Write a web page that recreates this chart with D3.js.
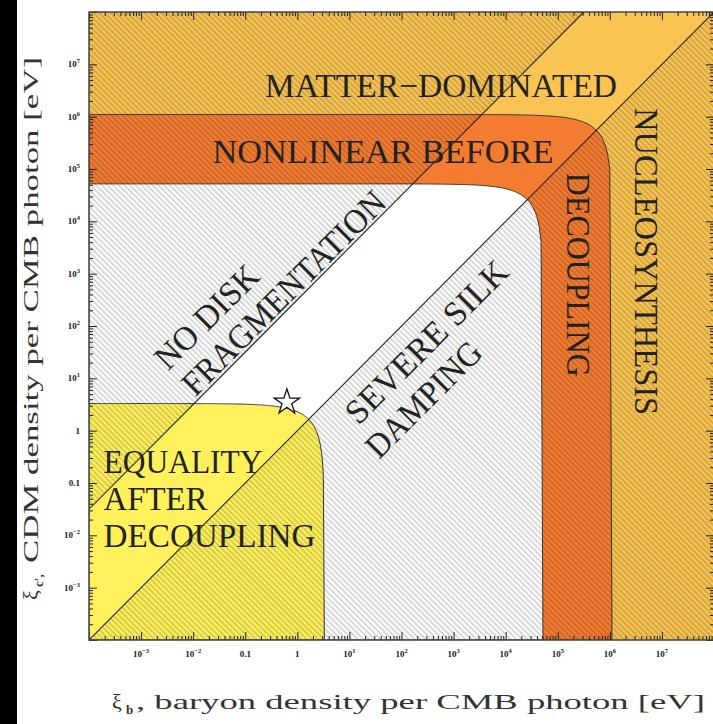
<!DOCTYPE html>
<html>
<head>
<meta charset="utf-8">
<script src="https://cdn.jsdelivr.net/npm/d3@7"></script>
<style>
body { margin: 0; background: #fff; }
svg { display: block; }
</style>
</head>
<body>
<script>

// upper limits of xi_b + xi_c [eV] for the nested regions (inner to outer)
var regionNames = ["equality after decoupling", "galaxy formation", "nonlinear before decoupling"];
var regionSums = [3.3, 5.2e4, 1.1e6];

// ratio xi_c / xi_b along the two diagonal boundaries
var diagNames = ["no disk fragmentation", "severe silk damping"];
var diagRatios = [316, 1];

// our universe
var starXiB = 0.63;
var starXiC = 3.5;

// tick labels, same on both axes
var tickValues = [1e-3, 1e-2, 0.1, 1, 1e1, 1e2, 1e3, 1e4, 1e5, 1e6, 1e7];
var tickLabels = ["10^-3", "10^-2", "0.1", "1", "10^1", "10^2", "10^3", "10^4", "10^5", "10^6", "10^7"];

// region annotations, anchored in data coordinates
var labelTexts = ["MATTER\u2212DOMINATED", "NONLINEAR BEFORE", "DECOUPLING", "NUCLEOSYNTHESIS",
	"EQUALITY", "AFTER", "DECOUPLING", "NO DISK", "FRAGMENTATION", "SEVERE SILK", "DAMPING"];
var labelXiB = [575, 44, 1.5e5, 3.0e6, 1.9e-4, 1.9e-4, 1.9e-4, 0.0033, 0.011, 15, 37];
var labelXiC = [2.4e6, 1.3e5, 950, 1.7e3, 0.155, 0.030, 0.006, 13.5, 4.3, 1.23, 0.275];



// page layout
var width = 713, height = 724;
var plot = { left: 89, top: 12, right: 714, bottom: 640 };
var xMin = 1e-4, xMax = 1e8, yMin = 1e-4, yMax = 1e8;
var serif = "'Liberation Serif', 'DejaVu Serif', serif";
var fills = ["#fef15b", "#ffffff", "#f47c31"];
var matterFill = "#f9c452";

// angle, anchor and drawn length of each annotation (same order as labelTexts)
var labelAngle = [0, 0, 90, 90, 0, 0, 0, -45, -45, -45, -45];
var labelAnchor = ["middle", "middle", "middle", "middle", "start", "start", "start", "start", "start", "start", "start"];
var labelLength = [352, 341, 204, 307, 159, 104, 212, 132, 273, 215, 149];

var svg = d3.select("body").append("svg")
	.attr("width", width)
	.attr("height", height);

var x = d3.scaleLog().domain([xMin, xMax]).range([plot.left, plot.right]);
var y = d3.scaleLog().domain([yMin, yMax]).range([plot.bottom, plot.top]);

var defs = svg.append("defs");

// diagonal hatch
var pat = defs.append("pattern")
	.attr("id", "hatch")
	.attr("patternUnits", "userSpaceOnUse")
	.attr("width", 4)
	.attr("height", 10)
	.attr("patternTransform", "rotate(-45)");
pat.append("line")
	.attr("x1", 1).attr("x2", 1).attr("y1", -1).attr("y2", 11)
	.attr("stroke", "#000")
	.attr("stroke-opacity", 0.22)
	.attr("stroke-width", 1.4);

defs.append("clipPath").attr("id", "plot-clip")
	.append("rect")
	.attr("x", plot.left).attr("y", plot.top)
	.attr("width", plot.right - plot.left).attr("height", plot.bottom - plot.top);

// hatched part: above the steep diagonal and below the xi_c = xi_b diagonal
var line = d3.line().x(function (d) { return x(d[0]); }).y(function (d) { return y(d[1]); });
var hatchClip = defs.append("clipPath").attr("id", "hatch-clip");
hatchClip.append("path").attr("d", line([
	[xMin, diagRatios[0] * xMin], [xMin, yMax], [yMax / diagRatios[0], yMax]]) + "Z");
hatchClip.append("path").attr("d", line([
	[xMin, diagRatios[1] * xMin], [xMax, diagRatios[1] * xMax], [xMax, yMin], [xMin, yMin]]) + "Z");

// left black strip of the scan
svg.append("rect").attr("x", 0).attr("y", 0).attr("width", 17).attr("height", height).attr("fill", "#000");

var g = svg.append("g").attr("clip-path", "url(#plot-clip)");

// outer region: matter-dominated
g.append("rect")
	.attr("x", plot.left).attr("y", plot.top)
	.attr("width", plot.right - plot.left).attr("height", plot.bottom - plot.top)
	.attr("fill", matterFill);

// boundary xi_b + xi_c = sum
function regionPath(sum) {
	var pts = [[xMin, yMin], [xMin, sum - xMin]];
	var n = 240, lo = Math.log10(xMin), hi = Math.log10(sum - yMin);
	for (var i = 1; i < n; i++) {
		var b = Math.pow(10, lo + (hi - lo) * i / n);
		pts.push([b, sum - b]);
	};
	pts.push([sum - yMin, yMin]);
	return line(pts) + "Z";
};

for (var i = regionSums.length - 1; i >= 0; i--) {
	g.append("path")
		.attr("class", "region")
		.attr("d", regionPath(regionSums[i]))
		.attr("fill", fills[i])
		.attr("stroke", "#3a3a3a")
		.attr("stroke-width", 1);
};

g.append("rect")
	.attr("x", plot.left).attr("y", plot.top)
	.attr("width", plot.right - plot.left).attr("height", plot.bottom - plot.top)
	.attr("fill", "url(#hatch)")
	.attr("clip-path", "url(#hatch-clip)");

// the two diagonals
diagRatios.forEach(function (r) {
	var xEnd = Math.min(xMax, yMax / r);
	g.append("path")
		.attr("d", line([[xMin, r * xMin], [xEnd, xEnd * r]]))
		.attr("fill", "none")
		.attr("stroke", "#222")
		.attr("stroke-width", 1.1);
});

// annotations
labelTexts.forEach(function (t, i) {
	var px = x(labelXiB[i]), py = y(labelXiC[i]);
	g.append("text")
		.attr("transform", "translate(" + px + "," + py + ") rotate(" + labelAngle[i] + ")")
		.attr("text-anchor", labelAnchor[i])
		.attr("font-family", serif)
		.attr("font-size", 34)
		.attr("fill", "#222")
		.attr("textLength", labelLength[i])
		.attr("lengthAdjust", "spacingAndGlyphs")
		.text(t);
});

// star marking our universe
svg.append("path")
	.attr("d", d3.symbol(d3.symbolStar, 200)())
	.attr("transform", "translate(" + x(starXiB) + "," + y(starXiC) + ")")
	.attr("fill", "#fff")
	.attr("stroke", "#111")
	.attr("stroke-width", 1.3);

// ticks on all four sides, pointing inward
var majors = d3.range(-4, 9).map(function (e) { return Math.pow(10, e); });
var minors = [];
d3.range(-4, 8).forEach(function (e) {
	for (var m = 2; m < 10; m++) minors.push(m * Math.pow(10, e));
});

function addAxis(axis, tx, ty) {
	var a = svg.append("g").attr("transform", "translate(" + tx + "," + ty + ")").call(axis);
	a.select(".domain").remove();
	a.selectAll("line").attr("stroke", "#222").attr("stroke-width", 1);
};
[[majors, 8], [minors, 4]].forEach(function (set) {
	addAxis(d3.axisBottom(x).tickValues(set[0]).tickSize(-set[1]).tickFormat(""), 0, plot.bottom);
	addAxis(d3.axisTop(x).tickValues(set[0]).tickSize(-set[1]).tickFormat(""), 0, plot.top);
	addAxis(d3.axisLeft(y).tickValues(set[0]).tickSize(-set[1]).tickFormat(""), plot.left, 0);
	addAxis(d3.axisRight(y).tickValues(set[0]).tickSize(-set[1]).tickFormat(""), plot.right, 0);
});

// frame
svg.append("rect")
	.attr("x", plot.left).attr("y", plot.top)
	.attr("width", plot.right - plot.left).attr("height", plot.bottom - plot.top)
	.attr("fill", "none")
	.attr("stroke", "#444")
	.attr("stroke-width", 1.5);

// tick labels with superscript exponents
function tickText(sel, label) {
	var parts = label.split("^");
	sel.append("tspan").text(parts[0]);
	if (parts.length > 1)
		sel.append("tspan").attr("dy", -4).attr("font-size", 6.5).text(parts[1].replace("-", "\u2212"));
};
tickValues.forEach(function (v, i) {
	var tx = svg.append("text")
		.attr("x", x(v)).attr("y", 657)
		.attr("text-anchor", "middle")
		.attr("font-family", serif).attr("font-weight", "bold")
		.attr("font-size", 9).attr("fill", "#222");
	tickText(tx, tickLabels[i]);
	var ty = svg.append("text")
		.attr("x", 80).attr("y", y(v) + 3)
		.attr("text-anchor", "end")
		.attr("font-family", serif).attr("font-weight", "bold")
		.attr("font-size", 9).attr("fill", "#222");
	tickText(ty, tickLabels[i]);
});

// axis titles
var xt = svg.append("text")
	.attr("y", 709)
	.attr("font-family", serif).attr("font-size", 22).attr("fill", "#333");
xt.append("tspan").attr("x", 112).text("\u03be");
xt.append("tspan").attr("x", 126).attr("dy", 5).attr("font-size", 13).attr("font-weight", "bold").text("b");
xt.append("tspan").attr("x", 136).attr("dy", -5)
	.attr("textLength", 569).attr("lengthAdjust", "spacingAndGlyphs")
	.text(", baryon density per CMB photon [eV]");

var yt = svg.append("text")
	.attr("transform", "translate(38,600) rotate(-90)")
	.attr("font-family", serif).attr("font-size", 22).attr("fill", "#333");
yt.append("tspan").attr("x", 0).text("\u03be");
yt.append("tspan").attr("x", 13).attr("dy", 5).attr("font-size", 13).attr("font-weight", "bold").text("c\u2032,");
yt.append("tspan").attr("x", 37).attr("dy", -5)
	.attr("textLength", 506).attr("lengthAdjust", "spacingAndGlyphs")
	.text("CDM density per CMB photon [eV]");

</script>
</body>
</html>
